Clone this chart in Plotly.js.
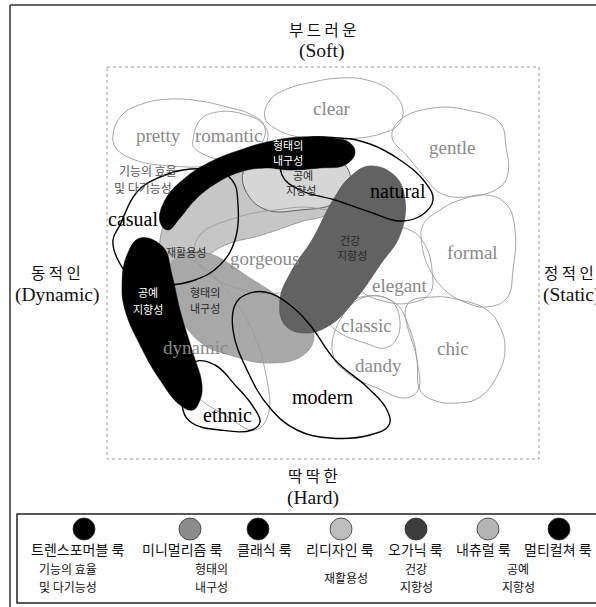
<!DOCTYPE html>
<html><head><meta charset="utf-8">
<script src="https://cdn.plot.ly/plotly-3.0.1.min.js"></script>
<style>html,body{margin:0;padding:0;background:#fff}#chart{width:596px;height:607px}</style>
</head><body><div id="chart"></div>
<script>
// ---- Image-word blobs (thin gray outlines), outline points in chart units ----
const prettyX = [113,122,142,170,200,227,250,264,262,245,210,172,135,116];
const prettyY = [135,115,104,99,101,107,114,125,143,158,166,166,160,148];
const romanticX = [193,200,217,243,263,268,260,247,225,205,193];
const romanticY = [140,120,112,114,124,137,150,157,160,155,146];
const clearX = [265,270,287,313,340,367,392,403,398,380,345,305,278];
const clearY = [118,100,89,82,78,80,92,110,125,134,139,138,130];
const gentleX = [392,400,433,467,500,506,508,500,467,440,427,408];
const gentleY = [137,120,108,110,123,147,173,187,197,193,180,157];
const formalX = [423,440,460,487,507,515,513,507,487,467,447,430,422];
const formalY = [225,210,200,195,205,230,270,298,307,303,292,270,245];
const elegantX = [355,385,410,425,432,430,410,383,360,345];
const elegantY = [238,228,230,245,270,293,303,301,290,265];
const classicX = [330,345,367,390,399,397,385,365,340];
const classicY = [322,305,296,300,315,338,348,343,333];
const dandyX = [365,395,410,417,418,405,377,350,333,340];
const dandyY = [297,303,330,360,390,398,388,375,355,320];
const chicX = [407,433,460,487,500,505,500,480,457,433,420,417];
const chicY = [305,297,300,310,327,347,370,397,403,400,390,360];
const gorgeousX = [200,235,275,315,340,338,320,285,245,210,195];
const gorgeousY = [235,218,210,208,218,245,275,292,290,275,255];
const dynamicX = [148,170,200,230,252,265,268,255,225,195,168,150];
const dynamicY = [270,255,265,295,330,370,415,430,415,395,360,310];

// ---- Look groups (filled areas) ----
const redesignX = [160,170,190,215,245,280,310,333,330,300,262,225,200,180,162];
const redesignY = [240,212,190,175,165,160,165,190,212,222,235,245,260,268,258];
const naturalLookX = [243,255,285,320,345,350,335,300,267,248];
const naturalLookY = [173,160,152,155,165,185,203,210,210,195];
const minimalX = [180,207,250,280,305,314,302,267,233,200,173,168];
const minimalY = [255,253,278,298,320,337,356,363,356,342,303,272];
const organicX = [370,395,405,400,380,355,330,305,285,280,292,312,333,350];
const organicY = [166,176,200,235,265,300,325,333,325,300,270,240,200,177];
const bandX = [160,165,185,212,243,267,300,333,350,355,345,320,290,265,240,215,195,180,168];
const bandY = [222,200,178,161,149,142,137,138,143,153,165,168,170,168,172,184,200,218,230];
const multiX = [140,163,172,180,192,202,200,193,180,160,140,125,122,127];
const multiY = [238,247,275,310,350,385,400,410,405,380,345,310,285,255];

// ---- Black-outlined words ----
const casualX = [120,137,160,183,210,232,238,235,220,195,165,135,118,113];
const casualY = [225,192,177,170,170,180,205,240,265,280,285,280,260,240];
const naturalX = [300,340,370,400,425,433,422,400,370,335,300,282,284];
const naturalY = [140,138,144,160,182,200,215,221,212,200,190,175,152];
const modernX = [245,265,290,310,335,367,387,389,370,330,297,270,247,233,235];
const modernY = [295,292,305,325,360,387,410,425,435,438,430,408,370,330,305];
const ethnicX = [195,215,235,252,260,252,220,192,183,185];
const ethnicY = [362,365,385,405,422,430,430,423,410,385];

// ---- Word labels ----
const grayWords = ['pretty','romantic','clear','gentle','gorgeous','formal','elegant','classic','dynamic','dandy','chic'];
const grayWordX = [158,229,332,452,264,472,400,366,195,378,453];
const grayWordY = [135,135,108,147,258,252,285,325,347,365,348];
const blackWords = ['natural','casual','modern','ethnic'];
const blackWordX = [398,133,322,227];
const blackWordY = [191,219,397,415];

// ---- Korean group labels inside the map ----
const inLabels = ['형태의','내구성','공예','지향성','재활용성','공예','지향성','형태의','내구성','건강','지향성'];
const inLabelX = [288,288,303,301,186,148,148,205,205,350,352];
const inLabelY = [145,160,175,190,252,292,309,292,308,240,255];
const inLabelOnDark = [true,true,false,false,false,true,true,false,false,false,false];

// ---- Axis poles ----
const poleText = ['부 드 러 운','(Soft)','동 적 인','(Dynamic)','정 적 인','(Static)','딱 딱 한','(Hard)'];

// ---- Legend ----
const legendLooks = ['트렌스포머블 룩','미니멀리즘 룩','클래식 룩','리디자인 룩','오가닉 룩','내츄럴 룩','멀티컬쳐 룩'];
const legendLookX = [77,182,264,340,415,483,558];
const legendDotX = [84,190,258,341,416,488,559];
const legendColors = ['#000000','#8c8c8c','#000000','#bdbdbd','#3c3c3c','#b4b4b4','#000000'];
const legendSub1 = ['기능의 효율','형태의','건강','공예'];
const legendSub2 = ['및 다기능성','내구성','지향성','지향성'];
const legendSubX = [68,211,416,518];
const legendSingle = '재활용성';

const traces = [];
function blob(x, y, fill, lineColor, lineWidth) {
  traces.push({
    type: 'scatter', mode: 'lines', x: x.concat([x[0]]), y: y.concat([y[0]]),
    fill: fill ? 'toself' : 'none', fillcolor: fill || 'rgba(0,0,0,0)',
    line: {color: lineColor, width: lineWidth, shape: 'spline', smoothing: 1.2},
    hoverinfo: 'skip'
  });
}
const thin = '#9a9a9a';
blob(redesignX, redesignY, '#c6c6c6', '#8a8a8a', 0.8);
blob(minimalX, minimalY, '#a8a8a8', '#888', 0.6);
blob(naturalLookX, naturalLookY, '#d6d6d6', '#555', 0.9);
[[prettyX,prettyY],[romanticX,romanticY],[clearX,clearY],[gentleX,gentleY],[formalX,formalY],
 [elegantX,elegantY],[classicX,classicY],[dandyX,dandyY],[chicX,chicY],[gorgeousX,gorgeousY],[dynamicX,dynamicY]]
 .forEach(p => blob(p[0], p[1], null, thin, 0.9));
blob(organicX, organicY, '#626262', '#4a4a4a', 0.6);
blob(bandX, bandY, '#000000', '#000', 0.5);
blob(multiX, multiY, '#000000', '#000', 0.5);
[[casualX,casualY],[naturalX,naturalY],[modernX,modernY],[ethnicX,ethnicY]]
 .forEach(p => blob(p[0], p[1], null, '#000', 1.4));

traces.push({type:'scatter', mode:'markers', x: legendDotX, y: legendDotX.map(() => 529),
  marker:{size:22, color: legendColors, line:{color:'#333', width:0.8}}, hoverinfo:'skip'});

const ann = [];
const serif = 'Liberation Serif, Times New Roman, serif';
const kr = 'Noto Sans CJK KR, sans-serif';
grayWords.forEach((t,i) => ann.push({x:grayWordX[i], y:grayWordY[i], text:t, showarrow:false,
  font:{family:serif, size:19, color:'#8a8a8a'}}));
blackWords.forEach((t,i) => ann.push({x:blackWordX[i], y:blackWordY[i], text:t, showarrow:false,
  font:{family:serif, size:20, color:'#000'}}));
inLabels.forEach((t,i) => ann.push({x:inLabelX[i], y:inLabelY[i], text:t, showarrow:false,
  font:{family:kr, size:11, color: inLabelOnDark[i] ? '#ffffff' : '#2a2a2a'}}));
ann.push({x:148, y:170, text:'기능의 효율', showarrow:false, font:{family:kr,size:12,color:'#555'}});
ann.push({x:143, y:187, text:'및 다기능성', showarrow:false, font:{family:kr,size:12,color:'#555'}});
const poleX = [322,322,56,57,542,541,313,313];
const poleY = [29,51,272,295,272,295,475,498];
poleText.forEach((t,i) => ann.push({x:poleX[i], y:poleY[i], text:t, showarrow:false,
  xanchor: (i===4||i===5) ? 'left' : 'center',
  font:{family: i%2===0 ? kr : serif, size: i%2===0 ? 15.5 : 19.5, color:'#111'}}));
legendLooks.forEach((t,i) => ann.push({x:legendLookX[i], y:549, text:t, showarrow:false,
  font:{family:kr, size:14, color:'#111'}}));
legendSub1.forEach((t,i) => ann.push({x:legendSubX[i], y:568, text:t, showarrow:false,
  font:{family:kr, size:12, color:'#111'}}));
legendSub2.forEach((t,i) => ann.push({x:legendSubX[i], y:586, text:t, showarrow:false,
  font:{family:kr, size:12, color:'#111'}}));
ann.push({x:346, y:577, text:legendSingle, showarrow:false, font:{family:kr, size:12, color:'#111'}});

const shapes = [
  {type:'line', x0:10, x1:600, y0:5, y1:5, line:{color:'#333', width:1.5}},
  {type:'line', x0:10, x1:10, y0:5, y1:610, line:{color:'#333', width:1.5}},
  {type:'rect', x0:107, x1:539, y0:67, y1:459, line:{color:'#9a9a9a', width:1, dash:'dot'}, layer:'below'},
  {type:'rect', x0:17, x1:620, y0:514, y1:603, line:{color:'#222', width:1.5}},
];

Plotly.newPlot('chart', traces, {
  width:596, height:607, margin:{l:0,r:0,t:0,b:0}, showlegend:false,
  paper_bgcolor:'#fff', plot_bgcolor:'#fff',
  xaxis:{range:[0,596], visible:false, fixedrange:true},
  yaxis:{range:[607,0], visible:false, fixedrange:true},
  annotations: ann, shapes: shapes
}, {staticPlot:true, displayModeBar:false});
</script></body></html>
